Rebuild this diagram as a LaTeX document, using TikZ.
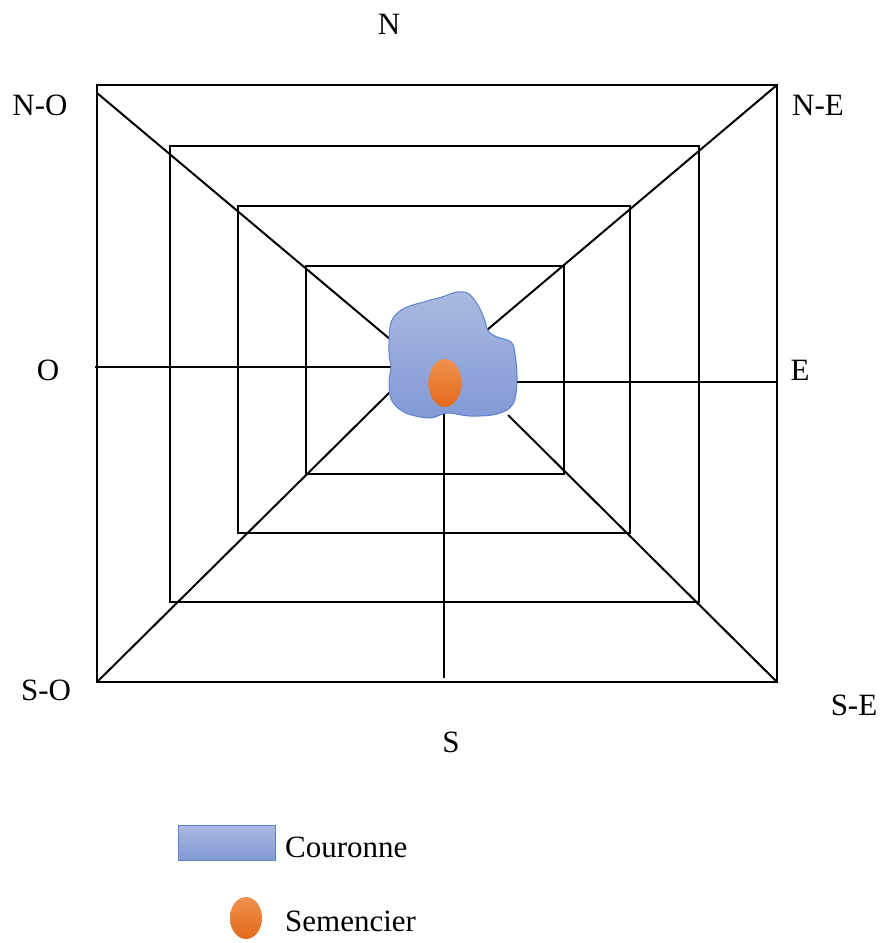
\documentclass[tikz,border=0pt]{standalone}
\usepackage{fontspec}
\setmainfont{Liberation Serif}
\definecolor{blobtop}{HTML}{AAB9E0}
\definecolor{blobbot}{HTML}{8299D6}
\definecolor{blobedge}{HTML}{5B82CC}
\definecolor{ortop}{HTML}{F0914F}
\definecolor{orbot}{HTML}{E3691A}
\tikzset{
  grid/.style={line width=2pt,black},
  lbl/.style={font=\fontsize{31}{36}\selectfont,inner sep=0pt},
  crown/.style={top color=blobtop,bottom color=blobbot,draw=blobedge,line width=1pt},
  seed/.style={ellipse,minimum width=33pt,minimum height=48pt,inner sep=0pt,top color=ortop,bottom color=orbot,draw=none}
}
\usetikzlibrary{shapes.geometric}
\begin{document}
\begin{tikzpicture}[x=1pt,y=-1pt]
\useasboundingbox (0,0) rectangle (881,943);
% corners
\coordinate (NW) at (97,85);
\coordinate (NE) at (777,85);
\coordinate (SW) at (97,682);
\coordinate (SE) at (777,682);
% rectangles
\draw[grid] (NW) rectangle (SE);
\draw[grid] (170,146) rectangle (699,602);
\draw[grid] (238,206) rectangle (630,533);
\draw[grid] (306,266) rectangle (564,474);
% spokes
\coordinate (nwend) at (391,340);
\coordinate (neend) at (487,330);
\coordinate (swend) at (390,392);
\coordinate (seend) at (508,415);
\coordinate (wend) at (392,367);
\coordinate (eend) at (514,382);
\coordinate (send) at (444,410);
\draw[grid] (97,93) -- (nwend);
\draw[grid] (NE) -- (neend);
\draw[grid] (SW) -- (swend);
\draw[grid] (SE) -- (seend);
\draw[grid] (95,367) -- (wend);
\draw[grid] (777,382) -- (eend);
\draw[grid] (444,678) -- (send);
% crown
\path[crown] plot[smooth cycle,tension=0.6] coordinates {
 (391,323) (403,309) (427,301) (442,297) (457,292) (469,294) (479,307)
 (485,321) (488,331) (497,337) (511,342) (515,354) (517,380) (513,404)
 (497,414) (470,416) (447,413) (430,418) (406,413) (392,401) (389,383)
 (391,367) (389,353)};
\node[seed] (seed1) at (445,383) {};
% labels
\node[lbl] (N) at (389,24) {N};
\node[lbl] (NO) at (40,105) {N-O};
\node[lbl] (NEl) at (818,105) {N-E};
\node[lbl] (O) at (48,370) {O};
\node[lbl] (E) at (800,370) {E};
\node[lbl] (SO) at (46,690) {S-O};
\node[lbl] (SEl) at (854,705) {S-E};
\node[lbl] (S) at (451,742) {S};
% legend
\node[crown,minimum width=97pt,minimum height=35pt,inner sep=0pt] (legc) at (227,843) {};
\node[lbl,anchor=west] (legct) at (285,847) {Couronne};
\node[seed,minimum width=32pt,minimum height=42pt] (legs) at (246,918) {};
\node[lbl,anchor=west] (legst) at (285,921) {Semencier};
\end{tikzpicture}
\end{document}
